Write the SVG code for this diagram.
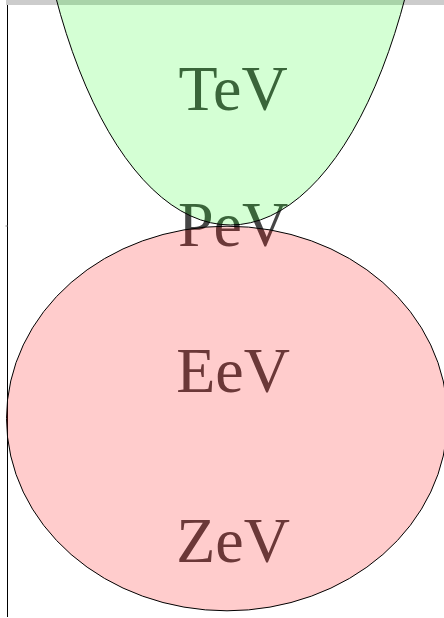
<svg xmlns="http://www.w3.org/2000/svg" width="444" height="618" viewBox="0 0 444 618">
<style>
.lbl{font-family:"Liberation Serif","Times New Roman",serif;font-size:64px;fill:#464646;text-anchor:middle}
.shape{stroke:#000;stroke-width:1}
</style>
<rect x="0" y="0" width="444" height="618" fill="#fff"/>
<rect x="6" y="0" width="438" height="5" fill="#ccc"/>
<g id="axis">
<line x1="7.5" y1="5" x2="7.5" y2="617" stroke="#000" stroke-width="1"/>
<line x1="5.5" y1="226" x2="7.5" y2="226" stroke="#888" stroke-width="1"/>
</g>
<g id="labels">
<text class="lbl" x="233" y="110">TeV</text>
<text class="lbl" x="233" y="246">PeV</text>
<text class="lbl" x="233" y="392">EeV</text>
<text class="lbl" x="233" y="562">ZeV</text>
</g>
<g id="tev">
<ellipse class="shape" cx="230.5" cy="-249" rx="204.5" ry="474" fill="#00ff00" fill-opacity="0.17"/>
</g>
<g id="eev">
<ellipse class="shape" cx="227" cy="418.5" rx="220.5" ry="192.3" fill="#ff0000" fill-opacity="0.2"/>
</g>
</svg>
